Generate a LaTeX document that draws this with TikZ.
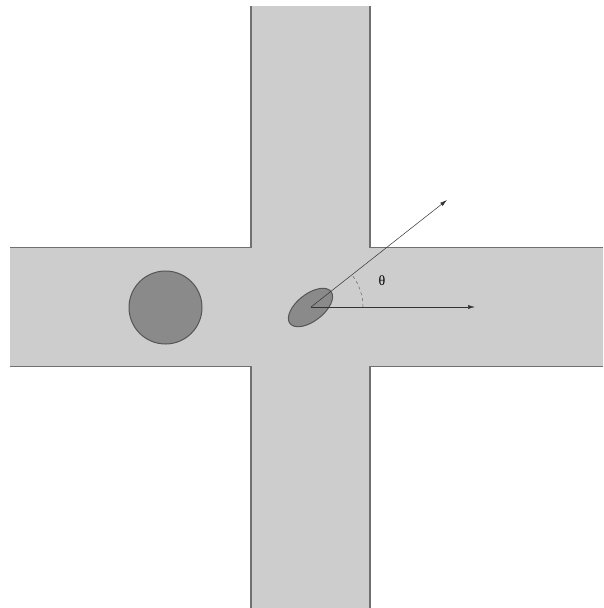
\documentclass[tikz,border=0pt]{standalone}
\usepackage{fontspec}
\usetikzlibrary{arrows.meta,shapes.geometric}
\newfontfamily\greekserif{Liberation Serif}
\definecolor{channelgray}{RGB}{205,205,205}
\definecolor{wallgray}{RGB}{112,112,112}
\definecolor{bodygray}{RGB}{138,138,138}
\definecolor{rimgray}{RGB}{85,85,85}

\begin{document}
\begin{tikzpicture}[
    x=1pt,y=-1pt,
    wall/.style={draw=wallgray,line width=1.4pt},
    body/.style={fill=bodygray,draw=rimgray,line width=1pt,inner sep=0pt},
    arrow/.style={-{Latex[length=7pt,width=4pt]},line width=0.5pt,draw=black!80},
    angle/.style={dashed,line width=0.5pt,draw=black!60}
  ]
    \useasboundingbox (0,0) rectangle (603,608);

    \fill[channelgray] (251,6) -- (370,6) -- (370,247.5) -- (603,247.5) -- (603,366.5)
      -- (370,366.5) -- (370,608) -- (251,608) -- (251,366.5) -- (10,366.5)
      -- (10,247.5) -- (251,247.5) -- cycle;

    \draw[wall] (251,6) -- (251,247.5) -- (10,247.5);
    \draw[wall] (10,366.5) -- (251,366.5) -- (251,608);
    \draw[wall] (370,6) -- (370,247.5) -- (603,247.5);
    \draw[wall] (603,366.5) -- (370,366.5) -- (370,608);

    \node[body,circle,minimum size=73pt] (sphere) at (165.5,307.5) {};
    \node[body,ellipse,rotate=38,minimum width=52pt,minimum height=27pt] (particle) at (310.5,307.5) {};

    \coordinate (axis) at (311,307);
    \coordinate (orienttip) at (447,200);
    \coordinate (flowtip) at (475,307);

    \draw[arrow] (axis) -- (orienttip);
    \draw[arrow] (axis) -- (flowtip);
    \draw[angle] ([xshift=52pt]axis) arc[start angle=0,end angle=38,radius=52pt];

    \node[font=\greekserif\fontsize{14}{16}\selectfont] (theta) at (382,281) {θ};
  \end{tikzpicture}
\end{document}
